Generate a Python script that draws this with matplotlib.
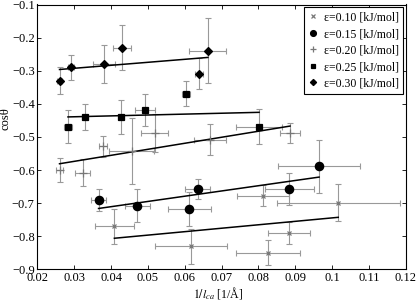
import numpy as np
import matplotlib
matplotlib.use("Agg")
import matplotlib.pyplot as plt

plt.rcParams["font.family"] = ["Liberation Serif", "DejaVu Serif"]
plt.rcParams["mathtext.fontset"] = "stix"
plt.rcParams["font.size"] = 8

# eps = 0.10
x10 = [0.0409, 0.0617, 0.0827, 0.0813, 0.0883, 0.1017]
y10 = [-0.770, -0.830, -0.850, -0.678, -0.790, -0.698]
xe10 = [0.0053, 0.0098, 0.0087, 0.0070, 0.0057, 0.0167]
ye10 = [0.052, 0.053, 0.038, 0.032, 0.034, 0.056]

# eps = 0.15
x15 = [0.0366, 0.0471, 0.0613, 0.0635, 0.0884, 0.0965]
y15 = [-0.690, -0.708, -0.718, -0.658, -0.658, -0.589]
xe15 = [0.0020, 0.0034, 0.0058, 0.0034, 0.0067, 0.0111]
ye15 = [0.033, 0.050, 0.052, 0.030, 0.048, 0.080]

# eps = 0.20
x20 = [0.0260, 0.0323, 0.0378, 0.0456, 0.0518, 0.0669, 0.0886]
y20 = [-0.600, -0.608, -0.528, -0.543, -0.488, -0.508, -0.488]
xe20 = [0.0010, 0.0020, 0.0012, 0.0061, 0.0037, 0.0043, 0.0026]
ye20 = [0.036, 0.040, 0.032, 0.100, 0.056, 0.047, 0.030]

# eps = 0.25
x25 = [0.0283, 0.0330, 0.0426, 0.0492, 0.0604, 0.0802]
y25 = [-0.469, -0.439, -0.439, -0.419, -0.369, -0.469]
xe25 = [0.0010, 0.0008, 0.0008, 0.0027, 0.0010, 0.0062]
ye25 = [0.050, 0.040, 0.052, 0.048, 0.037, 0.052]

# eps = 0.30
x30 = [0.0260, 0.0290, 0.0380, 0.0430, 0.0639, 0.0663]
y30 = [-0.330, -0.290, -0.280, -0.230, -0.309, -0.239]
xe30 = [0.0008, 0.0008, 0.0030, 0.0025, 0.0010, 0.0050]
ye30 = [0.040, 0.038, 0.057, 0.067, 0.047, 0.097]

series = [
    (x10, y10, xe10, ye10, "x", "#777777", 3.5, "ε=0.10 [kJ/mol]"),
    (x15, y15, xe15, ye15, "o", "black", 6, "ε=0.15 [kJ/mol]"),
    (x20, y20, xe20, ye20, "+", "#777777", 6, "ε=0.20 [kJ/mol]"),
    (x25, y25, xe25, ye25, "s", "black", 4.5, "ε=0.25 [kJ/mol]"),
    (x30, y30, xe30, ye30, "D", "black", 4.5, "ε=0.30 [kJ/mol]"),
]

fig = plt.figure(figsize=(4.16, 3.0), dpi=100)
ax = fig.add_axes([0.09, 0.102, 0.885, 0.883])

for x, y, xe, ye, m, c, ms, lab in series:
    ax.errorbar(x, y, xerr=xe, yerr=ye, fmt="none", ecolor="#999999",
                elinewidth=0.8, capsize=2, capthick=0.8, zorder=1)
    ax.plot(x, y, linestyle="none", marker=m, color=c, markersize=ms,
            markeredgewidth=0.9, label=lab, zorder=3)
    # linear fit drawn over the data range
    k, b = np.polyfit(x, y, 1)
    xs = np.array([min(x), max(x)])
    ax.plot(xs, k * xs + b, color="black", linewidth=1.1, zorder=2)

ax.set_xlim(0.02, 0.12)
ax.set_ylim(-0.9, -0.1)
ax.set_xticks(np.arange(0.02, 0.1201, 0.01))
ax.set_xticklabels(["0.02", "0.03", "0.04", "0.05", "0.06", "0.07",
                    "0.08", "0.09", "0.1", "0.11", "0.12"])
ax.set_yticks(np.arange(-0.9, -0.099, 0.1))
ax.set_yticklabels(["\u22120.9", "\u22120.8", "\u22120.7", "\u22120.6", "\u22120.5",
                    "\u22120.4", "\u22120.3", "\u22120.2", "\u22120.1"])
ax.tick_params(direction="in", top=True, right=True, length=3, width=0.6,
               labelsize=9, pad=2)
for s in ax.spines.values():
    s.set_linewidth(0.8)

ax.set_xlabel(r"$1/l_{ca}$ [1/Å]", fontsize=8.5)
ax.set_ylabel("cosθ", fontsize=9)
ax.xaxis.set_label_coords(0.49, -0.058)
ax.yaxis.set_label_coords(-0.07, 0.57)

leg = ax.legend(loc="upper right", fontsize=8.5, fancybox=False, framealpha=1,
                edgecolor="black", handlelength=0.8, handletextpad=0.5,
                borderpad=0.35, labelspacing=0.38, borderaxespad=0.25,
                markerscale=0.7)
leg.get_frame().set_linewidth(0.8)

fig.savefig("out.png", dpi=100)
